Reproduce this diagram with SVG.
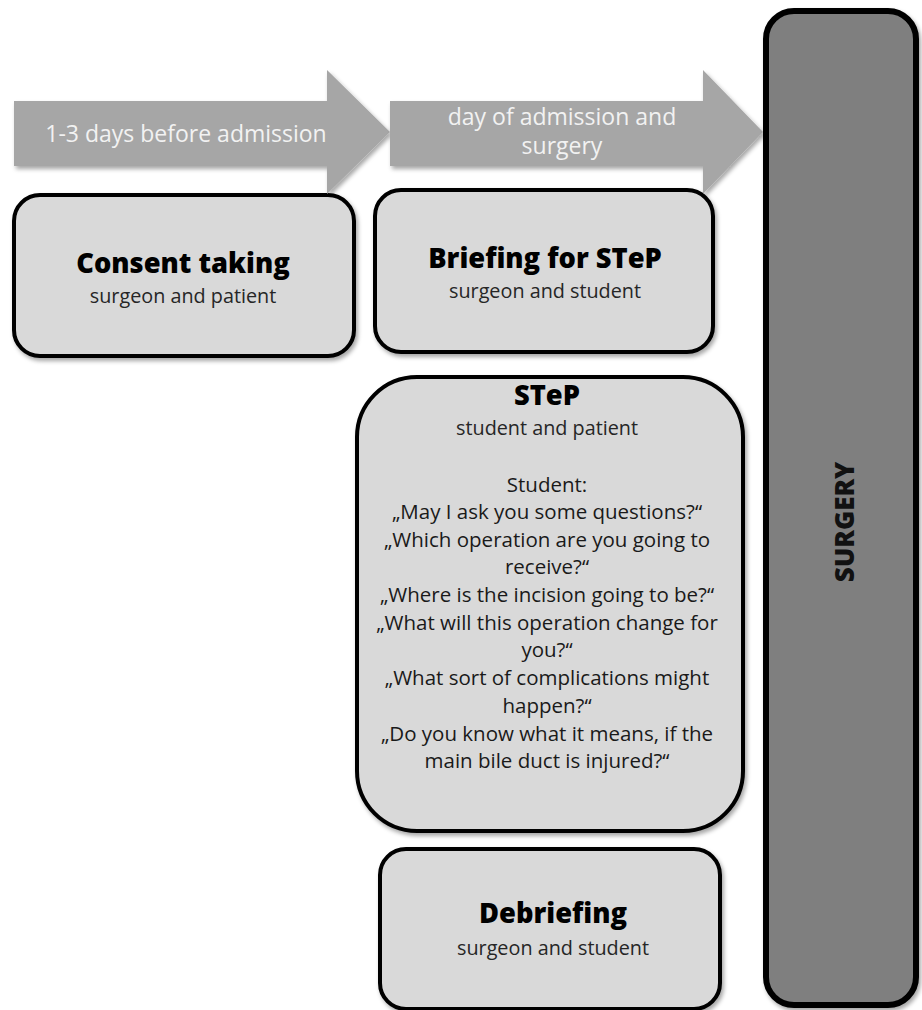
<svg xmlns="http://www.w3.org/2000/svg" width="922" height="1010" viewBox="0 0 922 1010">
<defs>
<filter id="sh" x="-10%" y="-10%" width="120%" height="120%">
<feDropShadow dx="2" dy="3" stdDeviation="2" flood-color="#000" flood-opacity="0.35"/>
</filter>
</defs>
<style>
.box{fill:#d9d9d9;stroke:#000;stroke-width:4;filter:url(#sh)}
.arrow{fill:#a6a6a6;filter:url(#sh)}
.ttl{font-family:"Open Sans","Liberation Sans",sans-serif;font-weight:800;font-size:27.3px;fill:#000;text-anchor:middle}
.sub{font-family:"Open Sans","Liberation Sans",sans-serif;font-size:19.8px;fill:#262626;text-anchor:middle}
.arr{font-family:"Open Sans","Liberation Sans",sans-serif;font-size:23px;fill:#f2f2f2;text-anchor:middle}
.body{font-family:"Open Sans","Liberation Sans",sans-serif;font-size:20.5px;fill:#1a1a1a;text-anchor:middle}
</style>
<rect width="922" height="1010" fill="#fff"/>
<g id="consent">
<rect class="box" x="14" y="195" width="340" height="161" rx="26"/>
<text class="ttl" x="183" y="273">Consent taking</text>
<text class="sub" x="183" y="303">surgeon and patient</text>
</g>
<g id="briefing">
<rect class="box" x="375" y="190" width="338" height="162" rx="26"/>
<text class="ttl" x="545" y="268">Briefing for STeP</text>
<text class="sub" x="545" y="298">surgeon and student</text>
</g>
<g id="connectors">
<g id="arrow1">
<polygon class="arrow" points="14,101 327,101 327,70 390,132 327,194 327,166 14,166"/>
<text class="arr" x="186" y="142">1-3 days before admission</text>
</g>
<g id="arrow2">
<polygon class="arrow" points="390,101 703,101 703,70 763,132 703,194 703,166 390,166"/>
<text class="arr" x="562" y="125">day of admission and</text>
<text class="arr" x="562" y="154">surgery</text>
</g>
</g>
<g id="step">
<rect class="box" x="357" y="377" width="386" height="454" rx="60"/>
<text class="ttl" x="547" y="405">STeP</text>
<text class="sub" x="547" y="435">student and patient</text>
<text class="body" x="547" y="492">Student:</text>
<text class="body" x="547" y="519">„May I ask you some questions?“</text>
<text class="body" x="547" y="547">„Which operation are you going to</text>
<text class="body" x="547" y="574">receive?“</text>
<text class="body" x="547" y="602">„Where is the incision going to be?“</text>
<text class="body" x="547" y="630">„What will this operation change for</text>
<text class="body" x="547" y="657">you?“</text>
<text class="body" x="547" y="685">„What sort of complications might</text>
<text class="body" x="547" y="713">happen?“</text>
<text class="body" x="547" y="741">„Do you know what it means, if the</text>
<text class="body" x="547" y="768">main bile duct is injured?“</text>
</g>
<g id="debriefing">
<rect class="box" x="380" y="849" width="340" height="160" rx="26"/>
<text class="ttl" x="553" y="923">Debriefing</text>
<text class="sub" x="553" y="955">surgeon and student</text>
</g>
<g id="surgery">
<rect class="box" x="766" y="11" width="150" height="994" rx="28" style="fill:#7f7f7f;stroke-width:6"/>
<text class="ttl" transform="translate(854,522) rotate(-90)" x="0" y="0" style="font-size:26px;fill:#111">SURGERY</text>
</g>
</svg>
